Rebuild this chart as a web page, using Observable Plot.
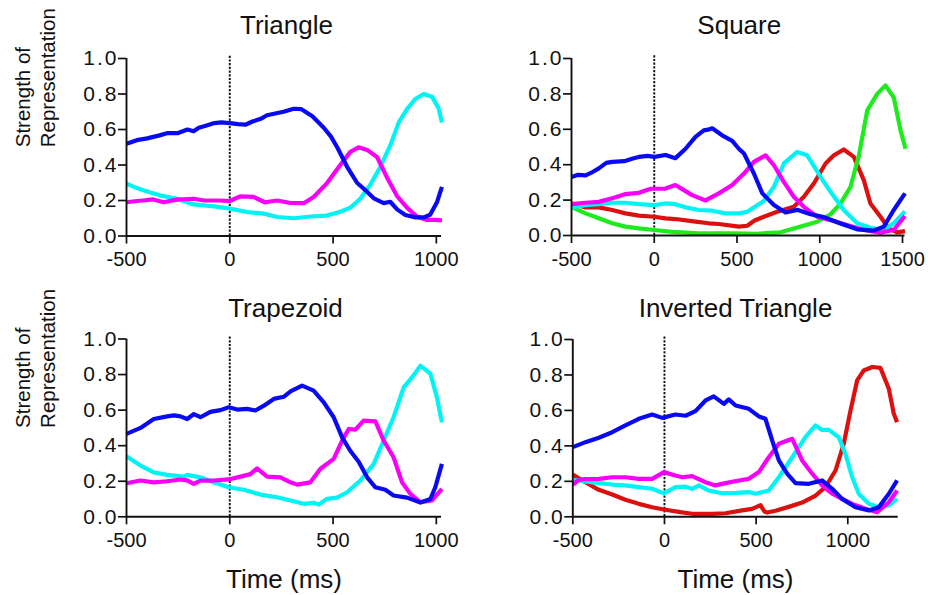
<!DOCTYPE html>
<html><head><meta charset="utf-8">
<script src="https://cdn.jsdelivr.net/npm/d3@7"></script>
<script src="https://cdn.jsdelivr.net/npm/@observablehq/plot@0.6"></script>
<style>
body{margin:0;background:#fff;}
#fig{position:relative;width:928px;height:595px;font-family:"Liberation Sans",Arial,sans-serif;}
#fig svg{position:absolute;overflow:visible;}
#fig g[aria-label="x-axis tick"], #fig g[aria-label="y-axis tick"],
#fig g[aria-label="x-axis tick"] *, #fig g[aria-label="y-axis tick"] *{stroke-width:1.7px;stroke:#111;}
#fig g[aria-label="y-axis tick label"]{font-size:21px;}
#fig g[aria-label="y-axis tick label"] text{letter-spacing:2px;}
</style></head><body><div id="fig"></div>
<script>
// ---- data: [time (ms), strength of representation] ----
const triangleBlue = [[-500,.52],[-450,.54],[-400,.55],[-340,.567],[-300,.58],[-250,.58],[-205,.60],[-175,.59],[-150,.61],[-120,.62],[-75,.636],[-40,.64],[0,.636],[40,.63],[75,.627],[110,.645],[150,.66],[180,.68],[220,.69],[260,.70],[310,.717],[345,.715],[400,.675],[455,.61],[490,.56],[520,.50],[568,.39],[616,.30],[650,.265],[700,.21],[745,.185],[777,.193],[810,.15],[850,.118],[900,.105],[940,.105],[970,.12],[1003,.19],[1027,.277]];
const triangleCyan = [[-500,.295],[-450,.27],[-415,.257],[-340,.229],[-255,.21],[-175,.178],[-75,.167],[0,.154],[85,.135],[165,.126],[230,.107],[310,.10],[390,.11],[470,.115],[535,.137],[584,.16],[632,.21],[681,.29],[729,.39],[777,.51],[818,.64],[858,.715],[898,.772],[938,.80],[979,.785],[1011,.72],[1027,.64]];
const triangleMagenta = [[-500,.19],[-450,.197],[-420,.2],[-370,.206],[-320,.19],[-255,.205],[-175,.21],[-125,.2],[-50,.2],[0,.197],[50,.223],[115,.22],[170,.19],[230,.2],[295,.186],[358,.185],[406,.22],[471,.298],[535,.40],[584,.474],[624,.50],[665,.485],[713,.445],[761,.33],[810,.225],[858,.16],[906,.11],[955,.09],[990,.091],[1027,.088]];

const squareBlue = [[-500,.33],[-460,.343],[-415,.34],[-370,.36],[-335,.379],[-290,.41],[-254,.416],[-181,.42],[-130,.435],[-93,.444],[-40,.45],[0,.444],[68,.455],[128,.437],[189,.49],[249,.557],[299,.594],[325,.598],[350,.606],[410,.566],[471,.535],[511,.49],[542,.463],[602,.35],[653,.238],[723,.172],[793,.13],[864,.145],[944,.12],[1025,.104],[1070,.088],[1125,.068],[1226,.035],[1327,.028],[1387,.05],[1447,.144],[1515,.238]];
const squareMagenta = [[-500,.177],[-415,.185],[-335,.19],[-254,.21],[-200,.226],[-174,.234],[-93,.241],[-20,.264],[68,.265],[128,.285],[169,.262],[229,.228],[310,.198],[390,.238],[471,.285],[511,.322],[542,.35],[602,.416],[673,.453],[723,.397],[783,.303],[843,.219],[904,.162],[985,.106],[1065,.087],[1165,.059],[1266,.031],[1367,.016],[1447,.031],[1515,.11]];
const squareCyan = [[-500,.159],[-415,.172],[-335,.177],[-254,.185],[-174,.185],[-93,.177],[0,.172],[68,.181],[128,.177],[189,.159],[269,.144],[350,.14],[430,.125],[511,.125],[562,.134],[620,.17],[662,.195],[723,.275],[783,.407],[864,.472],[924,.453],[1005,.331],[1065,.247],[1145,.144],[1226,.069],[1306,.044],[1387,.031],[1447,.069],[1515,.136]];
const squareRed = [[-500,.181],[-415,.159],[-335,.159],[-254,.144],[-174,.125],[-93,.112],[0,.106],[68,.097],[128,.093],[249,.078],[330,.069],[390,.065],[511,.05],[562,.055],[606,.085],[662,.106],[743,.134],[843,.162],[904,.219],[964,.294],[1035,.407],[1085,.453],[1145,.486],[1206,.444],[1266,.313],[1306,.181],[1367,.106],[1417,.04],[1468,.018],[1515,.025]];
const squareGreen = [[-500,.162],[-415,.125],[-335,.097],[-254,.069],[-174,.05],[-93,.04],[0,.031],[108,.02],[269,.012],[471,.012],[620,.01],[763,.018],[864,.045],[985,.078],[1065,.12],[1125,.18],[1186,.275],[1236,.45],[1287,.707],[1347,.80],[1397,.848],[1447,.78],[1488,.594],[1518,.49]];

const trapezoidBlue = [[-500,.466],[-432,.5],[-368,.55],[-303,.565],[-270,.57],[-239,.565],[-206,.55],[-174,.578],[-142,.56],[-94,.59],[-45,.6],[-5,.616],[36,.603],[84,.607],[124,.598],[165,.625],[213,.663],[261,.675],[294,.705],[350,.738],[406,.71],[455,.644],[503,.56],[544,.447],[584,.37],[624,.31],[665,.222],[705,.166],[753,.152],[793,.12],[858,.108],[923,.08],[971,.1],[995,.166],[1027,.298]];
const trapezoidCyan = [[-500,.34],[-432,.288],[-368,.25],[-303,.236],[-223,.226],[-206,.236],[-142,.222],[-78,.194],[-5,.166],[68,.152],[148,.125],[229,.11],[294,.092],[358,.073],[406,.079],[431,.069],[471,.101],[519,.108],[568,.138],[632,.204],[697,.298],[745,.429],[793,.56],[842,.728],[882,.784],[923,.85],[971,.805],[1003,.672],[1027,.531]];
const trapezoidMagenta = [[-500,.189],[-432,.204],[-368,.194],[-303,.2],[-239,.21],[-206,.205],[-174,.185],[-142,.204],[-78,.204],[-5,.21],[52,.226],[100,.24],[132,.272],[181,.226],[245,.222],[294,.194],[326,.181],[390,.194],[439,.27],[503,.326],[544,.429],[576,.494],[608,.49],[648,.541],[705,.537],[745,.429],[793,.335],[834,.194],[874,.129],[923,.082],[979,.092],[1027,.157]];

const invertedBlue = [[-500,.393],[-431,.421],[-358,.446],[-285,.477],[-213,.515],[-140,.553],[-67,.577],[-12,.558],[60,.577],[115,.57],[169,.596],[224,.656],[269,.679],[324,.637],[351,.662],[388,.628],[460,.609],[515,.566],[551,.553],[588,.43],[624,.318],[669,.243],[715,.19],[787,.186],[860,.205],[915,.158],[969,.101],[1042,.054],[1115,.036],[1169,.054],[1224,.13],[1269,.205]];
const invertedCyan = [[-500,.209],[-431,.2],[-358,.19],[-285,.182],[-213,.177],[-140,.167],[-67,.158],[-3,.132],[60,.167],[115,.17],[151,.158],[188,.177],[242,.148],[315,.133],[388,.135],[460,.139],[497,.13],[569,.148],[624,.223],[697,.336],[769,.449],[824,.515],[860,.49],[897,.49],[951,.449],[987,.355],[1024,.223],[1060,.13],[1115,.073],[1169,.054],[1224,.064],[1269,.101]];
const invertedMagenta = [[-500,.182],[-465,.209],[-431,.212],[-358,.214],[-285,.223],[-213,.223],[-140,.214],[-67,.214],[-3,.252],[60,.233],[97,.223],[151,.229],[224,.195],[278,.177],[333,.19],[406,.205],[460,.214],[515,.252],[569,.336],[624,.412],[697,.44],[751,.318],[806,.243],[860,.177],[915,.13],[969,.101],[1024,.073],[1097,.045],[1160,.026],[1224,.082],[1269,.148]];
const invertedRed = [[-500,.238],[-431,.195],[-358,.152],[-285,.126],[-213,.096],[-140,.073],[-67,.054],[-3,.041],[87,.026],[151,.017],[260,.017],[333,.02],[424,.036],[478,.045],[524,.066],[545,.03],[560,.024],[606,.034],[678,.056],[751,.08],[824,.12],[878,.167],[933,.261],[978,.412],[1015,.6],[1051,.769],[1087,.825],[1133,.845],[1178,.84],[1224,.722],[1251,.581],[1269,.534]];

const panelTitles = ["Triangle", "Square", "Trapezoid", "Inverted Triangle"];
const yTicks = [0, 0.2, 0.4, 0.6, 0.8, 1.0];
const xTicksShort = [-500, 0, 500, 1000];
const xTicksLong = [-500, 0, 500, 1000, 1500];
const yLabel = "Strength of\nRepresentation";
const xLabel = "Time (ms)";
const stimulusOnset = 0;

// ---- styling ----
const C = {blue: "#0a0af2", cyan: "#00f4f4", magenta: "#f800f8", red: "#dd1010", green: "#1cec1c"};
const font = "'Liberation Sans', Arial, Helvetica, sans-serif";

const panels = [
  {title: panelTitles[0], left: 0, top: 0, width: 464, height: 290, mt: 58, mb: 54.5, ml: 126, mr: 23,
   xDomain: [-500, 1025], xTicks: xTicksShort, titleDy: -25, titleDx: 2.5, yLab: true, xLab: false,
   series: [[triangleCyan, C.cyan], [triangleMagenta, C.magenta], [triangleBlue, C.blue]]},
  {title: panelTitles[1], left: 464, top: 0, width: 464, height: 290, mt: 58, mb: 55, ml: 107, mr: 23.5,
   xDomain: [-500, 1515], xTicks: xTicksLong, titleDy: -25, titleDx: 1, yLab: false, xLab: false,
   series: [[squareRed, C.red], [squareGreen, C.green], [squareCyan, C.cyan], [squareMagenta, C.magenta], [squareBlue, C.blue]]},
  {title: panelTitles[2], left: 0, top: 290, width: 464, height: 305, mt: 48.5, mb: 78.7, ml: 126, mr: 23,
   xDomain: [-500, 1025], xTicks: xTicksShort, titleDy: -22.5, titleDx: 1.5, yLab: true, xLab: true,
   series: [[trapezoidCyan, C.cyan], [trapezoidMagenta, C.magenta], [trapezoidBlue, C.blue]]},
  {title: panelTitles[3], left: 464, top: 290, width: 464, height: 305, mt: 49, mb: 78.7, ml: 108.3, mr: 30.3,
   xDomain: [-500, 1275], xTicks: xTicksShort, titleDy: -22.5, titleDx: 0, yLab: false, xLab: true,
   series: [[invertedRed, C.red], [invertedCyan, C.cyan], [invertedMagenta, C.magenta], [invertedBlue, C.blue]]}
];

const fig = document.getElementById("fig");
for (const p of panels) {
  const marks = [
    Plot.ruleX([stimulusOnset], {y1: 0, y2: 1.02, stroke: "#111", strokeWidth: 1.9, strokeDasharray: "2.2,1.5"}),
    ...p.series.map(([values, color]) =>
      Plot.line(values, {x: d => d[0], y: d => d[1], stroke: color, strokeWidth: 4.2, strokeLinejoin: "round", strokeLinecap: "butt"})),
    Plot.ruleX([p.xDomain[0]], {stroke: "#111", strokeWidth: 1.9}),
    Plot.ruleY([0], {stroke: "#111", strokeWidth: 1.9}),
    Plot.text([p.title], {frameAnchor: "top", lineAnchor: "bottom", dy: p.titleDy, dx: p.titleDx, fontSize: 26, fill: "#111"})
  ];
  if (p.yLab) marks.push(Plot.text([yLabel], {frameAnchor: "left", rotate: -90, dx: -92, fontSize: 20.5, lineHeight: 1.2, fill: "#111"}));
  if (p.xLab) marks.push(Plot.text([xLabel], {frameAnchor: "bottom", lineAnchor: "bottom", dy: 71.5, fontSize: 26, fill: "#111"}));
  const chart = Plot.plot({
    width: p.width, height: p.height,
    marginTop: p.mt, marginBottom: p.mb, marginLeft: p.ml, marginRight: p.mr,
    style: {background: "transparent", fontFamily: font, fontSize: "20px", color: "#111", overflow: "visible"},
    x: {domain: p.xDomain, ticks: p.xTicks, tickFormat: d => String(d), tickSize: 8, tickPadding: 8, label: null},
    y: {domain: [0, 1], ticks: yTicks, tickFormat: d3.format(".1f"), tickSize: 8, tickPadding: 0, label: null},
    marks
  });
  chart.style.left = p.left + "px";
  chart.style.top = p.top + "px";
  fig.appendChild(chart);
}
</script></body></html>
